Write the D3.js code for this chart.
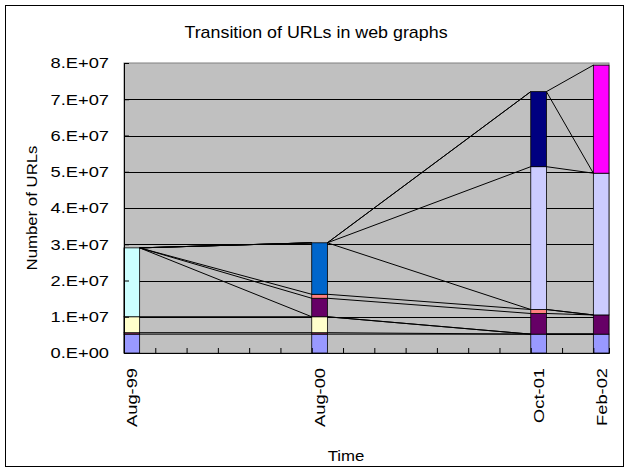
<!DOCTYPE html>
<html>
<head>
<meta charset="utf-8">
<title>Transition of URLs in web graphs</title>
<script src="https://cdn.jsdelivr.net/npm/d3@7"></script>
<style>
  body { margin: 0; background: #fff; }
  text { font-family: Arial, "Liberation Sans", sans-serif; fill: #000; }
</style>
</head>
<body>
<div id="chart"></div>
<script>
// crawl dates (columns)
var dates = ["Aug-99", "Aug-00", "Oct-01", "Feb-02"];

// stacked series, bottom to top, one value per date
var s1 = [5.2e6, 5.2e6, 5.2e6, 5.2e6];
var s2 = [0.4e6, 0.4e6, 0, 0];
var s3 = [4.4e6, 4.4e6, 0, 0];
var s4 = [1.9e7, 0, 0, 0];
var s5 = [0, 5.1e6, 5.7e6, 5.3e6];
var s6 = [0, 1.1e6, 1.1e6, 0];
var s7 = [0, 1.42e7, 0, 0];
var s8 = [0, 0, 3.94e7, 3.91e7];
var s9 = [0, 0, 2.07e7, 0];
var s10 = [0, 0, 0, 2.98e7];

var colors = ["#9999FF", "#993366", "#FFFFCC", "#CCFFFF", "#660066",
              "#FF8080", "#0066CC", "#CCCCFF", "#000080", "#FF00FF"];
var yTicks = [0, 1e7, 2e7, 3e7, 4e7, 5e7, 6e7, 7e7, 8e7];

var series = [s1, s2, s3, s4, s5, s6, s7, s8, s9, s10];

var W = 629, H = 472;
var plot = {left: 124, top: 63, right: 609, bottom: 353};
var stretch = 1.22; // the labels are drawn wide in the original

var svg = d3.select("#chart").append("svg")
  .attr("width", W).attr("height", H);

svg.append("rect")
  .attr("x", 5.5).attr("y", 5.5)
  .attr("width", 618).attr("height", 461)
  .attr("fill", "#fff").attr("stroke", "#000");

// months since first date -> x position
var parse = d3.timeParse("%b-%y");
var d0 = parse(dates[0]);
var months = dates.map(function(d){ return d3.timeMonth.count(d0, parse(d)); });
var lastM = months[months.length - 1];

var x = d3.scaleLinear().domain([-0.5, lastM + 0.5]).range([plot.left, plot.right]);
var y = d3.scaleLinear().domain([0, 8e7]).range([plot.bottom, plot.top]);
var bw = x(0.5) - x(-0.5);

// stack
var table = dates.map(function(d, i){
  var row = {date: d, m: months[i]};
  series.forEach(function(s, k){ row["s" + k] = s[i]; });
  return row;
});
var keys = series.map(function(s, k){ return "s" + k; });
var stacked = d3.stack().keys(keys)(table);

// plot area
svg.append("rect")
  .attr("x", plot.left).attr("y", plot.top)
  .attr("width", plot.right - plot.left).attr("height", plot.bottom - plot.top)
  .attr("fill", "#C0C0C0").attr("stroke", "#808080");

// gridlines
svg.append("g").selectAll("line")
  .data(yTicks.slice(1, -1))
  .join("line")
  .attr("x1", plot.left).attr("x2", plot.right)
  .attr("y1", function(d){ return Math.round(y(d)) + 0.5; })
  .attr("y2", function(d){ return Math.round(y(d)) + 0.5; })
  .attr("stroke", "#000");

// bars
var layers = svg.append("g").selectAll("g")
  .data(stacked)
  .join("g")
  .attr("fill", function(d, k){ return colors[k]; });

layers.selectAll("rect")
  .data(function(d){ return d.filter(function(p){ return p[1] > p[0]; }); })
  .join("rect")
  .attr("x", function(p){ return x(p.data.m) - bw / 2; })
  .attr("width", bw)
  .attr("y", function(p){ return y(p[1]); })
  .attr("height", function(p){ return y(p[0]) - y(p[1]); })
  .attr("stroke", "#000")
  .attr("stroke-width", 0.8);

// series lines between neighbouring columns
var seg = [];
stacked.forEach(function(layer){
  for (var i = 0; i < layer.length - 1; i++) {
    seg.push({a: layer[i], b: layer[i + 1]});
  }
});
svg.append("g").selectAll("line")
  .data(seg)
  .join("line")
  .attr("x1", function(d){ return x(d.a.data.m) + bw / 2; })
  .attr("y1", function(d){ return y(d.a[1]); })
  .attr("x2", function(d){ return x(d.b.data.m) - bw / 2; })
  .attr("y2", function(d){ return y(d.b[1]); })
  .attr("stroke", "#000")
  .attr("stroke-width", 1);

// axes
function sci(d){
  if (d === 0) return "0.E+00";
  var e = Math.floor(Math.log10(d));
  return Math.round(d / Math.pow(10, e)) + ".E+" + String(e).padStart(2, "0");
}

var yAxis = d3.axisLeft(y).tickValues(yTicks).tickSize(-5).tickFormat("");
var gy = svg.append("g").attr("transform", "translate(" + plot.left + ",0)").call(yAxis);

var xTickVals = d3.range(-0.5, lastM, 2);
var xAxis = d3.axisBottom(x).tickValues(xTickVals).tickSize(-5).tickFormat("");
var gx = svg.append("g").attr("transform", "translate(0," + plot.bottom + ")").call(xAxis);

[gx, gy].forEach(function(g){
  g.select(".domain").attr("stroke", "#000");
  g.selectAll(".tick line").attr("stroke", "#000");
});

// y tick labels
svg.append("g").selectAll("text")
  .data(yTicks)
  .join("text")
  .attr("transform", function(d){
    return "translate(109," + y(d) + ") scale(" + stretch + ",1)";
  })
  .attr("dy", "0.36em")
  .attr("text-anchor", "end")
  .style("font-size", "15px")
  .text(sci);

// date labels
svg.append("g").selectAll("text")
  .data(dates)
  .join("text")
  .attr("transform", function(d, i){
    return "translate(" + (x(months[i]) + 5.5) + "," + (plot.bottom + 15) + ") rotate(-90) scale(" + stretch + ",1)";
  })
  .attr("text-anchor", "end")
  .style("font-size", "15px")
  .text(function(d){ return d; });

// titles
svg.append("text")
  .attr("transform", "translate(316,38) scale(1.05,1)")
  .attr("text-anchor", "middle")
  .style("font-size", "17px")
  .text("Transition of URLs in web graphs");

svg.append("text")
  .attr("transform", "translate(37," + ((plot.top + plot.bottom) / 2) + ") rotate(-90) scale(1.12,1)")
  .attr("text-anchor", "middle")
  .style("font-size", "15px")
  .text("Number of URLs");

svg.append("text")
  .attr("transform", "translate(346,461) scale(1.12,1)")
  .attr("text-anchor", "middle")
  .style("font-size", "15px")
  .text("Time");
</script>
</body>
</html>
